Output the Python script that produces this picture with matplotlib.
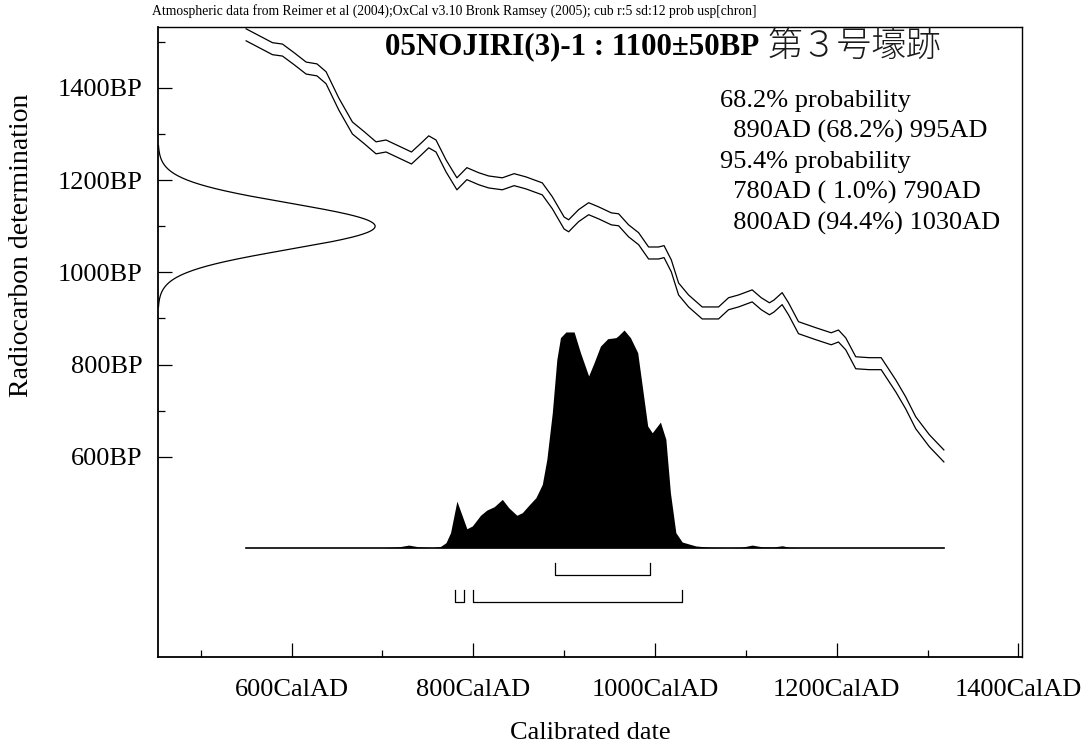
import numpy as np
import matplotlib
matplotlib.use("Agg")
import matplotlib.pyplot as plt
from matplotlib.ticker import FixedLocator

# calibration curve (mean BP, +/- 1 sigma)
cal_ad = [550, 579, 590, 603, 616, 628, 638, 652, 667, 680, 693, 704, 718, 732,
          743, 751, 759, 770, 782, 793, 806, 817, 832, 845, 858, 876, 887, 900,
          905, 916, 927, 938, 952, 960, 971, 982, 993, 1004, 1010, 1018, 1026,
          1037, 1052, 1070, 1081, 1092, 1107, 1117, 1126, 1131, 1140, 1147, 1158,
          1177, 1194, 1202, 1210, 1221, 1236, 1249, 1265, 1276, 1287, 1302, 1318]
cal_bp = [1515, 1485, 1482, 1463, 1443, 1439, 1422, 1365, 1313, 1292, 1270, 1274,
          1261, 1248, 1268, 1283, 1274, 1231, 1192, 1214, 1203, 1196, 1192, 1201,
          1194, 1181, 1151, 1107, 1101, 1123, 1138, 1129, 1116, 1114, 1090, 1073,
          1042, 1042, 1045, 1014, 964, 938, 912, 912, 932, 938, 949, 932, 921,
          927, 943, 921, 880, 867, 856, 862, 845, 804, 802, 802, 754, 717, 674,
          635, 602]
cal_err = 13

# radiocarbon measurement
r_date = 1100
r_err = 50

# calibrated distribution (relative probability)
prob_ad = [550, 700, 718, 729, 740, 755, 764, 770, 775, 782, 793, 799, 808, 815,
           823, 832, 839, 848, 854, 861, 869, 876, 881, 887, 892, 896, 902, 911,
           918, 927, 933, 940, 948, 957, 960, 966, 973, 981, 986, 992, 997, 1006,
           1012, 1017, 1023, 1030, 1045, 1060, 1080, 1095, 1107, 1118, 1130, 1140,
           1148, 1160, 1318]
prob_rel = [0, 0, 0.004, 0.012, 0.004, 0, 0.006, 0.023, 0.069, 0.214, 0.087, 0.100,
            0.149, 0.173, 0.188, 0.222, 0.184, 0.149, 0.161, 0.194, 0.230, 0.291,
            0.406, 0.620, 0.865, 0.965, 0.991, 0.991, 0.896, 0.789, 0.850, 0.926,
            0.960, 0.965, 0.975, 1.000, 0.965, 0.896, 0.743, 0.559, 0.528, 0.577,
            0.498, 0.253, 0.069, 0.026, 0.008, 0.002, 0, 0.002, 0.012, 0.004,
            0.003, 0.009, 0.002, 0, 0]

ranges_68 = [(890, 995)]
ranges_95 = [(780, 790), (800, 1030)]

x_major = [600, 800, 1000, 1200, 1400]
x_minor = [500, 700, 900, 1100, 1300]
y_major = [600, 800, 1000, 1200, 1400]
y_minor = [700, 900, 1100, 1300, 1500]

header = ("Atmospheric data from Reimer et al (2004);OxCal v3.10 Bronk Ramsey (2005); "
          "cub r:5 sd:12 prob usp[chron]")
title = "05NOJIRI(3)-1 : 1100\u00b150BP"
site = "第３号壕跡"
summary = ["68.2% probability", "  890AD (68.2%) 995AD", "95.4% probability",
           "  780AD ( 1.0%) 790AD", "  800AD (94.4%) 1030AD"]

SERIF = "Liberation Serif"
W, H = 1090, 748

fig = plt.figure(figsize=(W / 100, H / 100), dpi=100)
ax = fig.add_axes([158 / W, 1 - 657 / H, 864 / W, 630 / H])
ax.set_xlim(453, 1404)
ax.set_ylim(166, 1532)

# calibration curve envelope
cal_bp = np.array(cal_bp)
ax.plot(cal_ad, cal_bp + cal_err, color="black", lw=0.9)
ax.plot(cal_ad, cal_bp - cal_err, color="black", lw=0.9)

# radiocarbon date on the y axis
bp = np.linspace(r_date - 3.5 * r_err, r_date + 3.5 * r_err, 300)
dens = np.exp(-0.5 * ((bp - r_date) / r_err) ** 2)
ax.plot(453 + 239 * dens, bp, color="black", lw=0.9)

# calibrated distribution
base = 403
scale = 472
ax.fill_between(prob_ad, base, base + scale * np.array(prob_rel),
                color="black", lw=0)
ax.plot([prob_ad[0], prob_ad[-1]], [base, base], color="black", lw=1.2)

# range brackets
for ranges, yb in [(ranges_68, 344), (ranges_95, 286)]:
    for lo, hi in ranges:
        ax.plot([lo, lo, hi, hi], [yb + 26, yb, yb, yb + 26], color="black", lw=0.9)

# axes styling
for s in ax.spines.values():
    s.set_linewidth(1.0)
ax.spines["left"].set_linewidth(1.3)
ax.spines["bottom"].set_linewidth(1.3)
ax.xaxis.set_minor_locator(FixedLocator(x_minor))
ax.yaxis.set_minor_locator(FixedLocator(y_minor))
ax.tick_params(which="both", direction="in", top=False, right=False, width=0.9)
ax.tick_params(which="major", length=10)
ax.tick_params(which="minor", length=5)
ax.tick_params(axis="x", which="major", pad=16)
ax.tick_params(axis="y", which="major", pad=11)
ax.set_xticks(x_major)
ax.set_xticklabels([f"{v}CalAD" for v in x_major], family=SERIF, fontsize=19)
ax.set_yticks(y_major)
ax.set_yticklabels([f"{v}BP" for v in y_major], family=SERIF, fontsize=19)

# texts
fig.text(152 / W, 1 - 11 / H, header, family=SERIF, fontsize=9.8, va="center")
fig.text(385 / W, 1 - 47 / H, title, family=SERIF, fontsize=22.3,
         fontweight="bold", va="center")
fig.text(768 / W, 1 - 46 / H, site, family=["Noto Sans CJK JP", "DejaVu Sans"],
         fontsize=25, fontweight="light", va="center", color="#1a1a1a")
for i, line in enumerate(summary):
    fig.text(720 / W, 1 - (101 + 30.5 * i) / H, line, family=SERIF,
             fontsize=19, va="center")
fig.text(22 / W, 1 - 245 / H, "Radiocarbon determination", family=SERIF,
         fontsize=20, rotation=90, ha="center", va="center")
fig.text(590 / W, 1 - 733 / H, "Calibrated date", family=SERIF, fontsize=19,
         ha="center", va="center")

fig.savefig("out.png", dpi=100)
